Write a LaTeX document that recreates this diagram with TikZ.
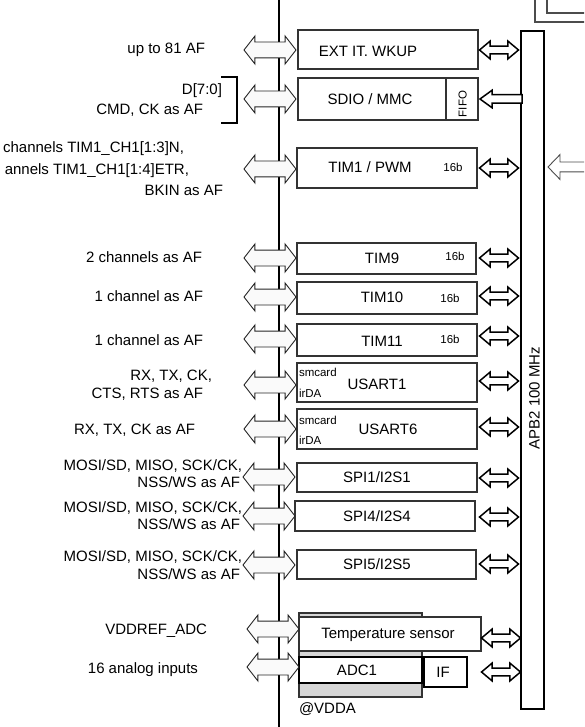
\documentclass[tikz,border=0pt]{standalone}
\usepackage{fontspec}
\setmainfont{Liberation Sans}
\usetikzlibrary{shapes.arrows}
\definecolor{adcgray}{HTML}{D6D6D6}
\definecolor{arrfill}{HTML}{FAFAFA}

\begin{document}
\begin{tikzpicture}[x=1pt, y=-1pt,
  every node/.style={font=\fontsize{15}{17}\selectfont, inner sep=0pt, outer sep=0pt},
  sml/.style={font=\fontsize{11.5}{13}\selectfont},
  ctr/.style={anchor=mid, yshift=-2pt},
  lbl/.style={anchor=mid east, yshift=-2pt},
  lft/.style={anchor=mid west, yshift=-2pt},
  blk/.style={draw=black!80, line width=1.1pt, fill=white, anchor=north west},
  larr/.style={double arrow, draw=black!85, line width=0.9pt, fill=arrfill, inner xsep=0pt, inner ysep=7.5pt,
    minimum height=52, double arrow head extend=6, double arrow tip angle=104},
  rarr/.style={double arrow, draw=black, line width=1.5pt, fill=white, inner xsep=0pt, inner ysep=3.2pt,
    minimum height=39, double arrow head extend=5, double arrow tip angle=80}]
\useasboundingbox (0,0) rectangle (584,727);
\clip (0,0) rectangle (584,727);
% corner of the frame above
\draw[black!70, line width=1.6pt] (535,0) -- (535,22) -- (590,22);
\draw[black!70, line width=1.6pt] (547,0) -- (547,13) -- (590,13);
% bus
\draw[line width=2.4pt] (279,0) -- (279,727);
% peripheral blocks
\node[blk, minimum width=180, minimum height=39] (wkup) at (298,30) {};
\node[ctr] (wkupt) at (368,52) {EXT IT. WKUP};
\node[blk, minimum width=180, minimum height=42] (sdio) at (298,78) {};
\draw[black!80, line width=1.1pt] (446,78) -- (446,120);
\node[ctr] (sdiot) at (370,100) {SDIO / MMC};
\node[sml, rotate=90, anchor=mid] (fifo) at (464,104) {FIFO};
\node[blk, minimum width=180, minimum height=40] (tim1) at (297,148) {};
\node[ctr] (tim1t) at (370,168) {TIM1 / PWM};
\node[sml, ctr] (tim1b) at (453,167) {16b};
\node[blk, minimum width=179, minimum height=31] (tim9) at (297,243) {};
\node[ctr] (tim9t) at (382,259) {TIM9};
\node[sml, ctr] (tim9b) at (455,256) {16b};
\node[blk, minimum width=180, minimum height=32] (tim10) at (297,282) {};
\node[ctr] (tim10t) at (382,298) {TIM10};
\node[sml, ctr] (tim10b) at (450,298) {16b};
\node[blk, minimum width=180, minimum height=32] (tim11) at (297,324) {};
\node[ctr] (tim11t) at (382,342) {TIM11};
\node[sml, ctr] (tim11b) at (450,339) {16b};
\node[blk, minimum width=180, minimum height=39] (usart1) at (297,363) {};
\node[ctr] (usart1t) at (377,385) {USART1};
\node[sml, lft] (usart1s) at (299,372) {smcard};
\node[sml, lft] (usart1i) at (299,393) {irDA};
\node[blk, minimum width=180, minimum height=40] (usart6) at (297,409) {};
\node[ctr] (usart6t) at (388,430) {USART6};
\node[sml, lft] (usart6s) at (299,420) {smcard};
\node[sml, lft] (usart6i) at (299,440) {irDA};
\node[blk, minimum width=180, minimum height=29] (spi1) at (297,463) {};
\node[ctr] (spi1t) at (377,478) {SPI1/I2S1};
\node[blk, minimum width=180, minimum height=30] (spi4) at (295,501) {};
\node[ctr] (spi4t) at (377,517) {SPI4/I2S4};
\node[blk, minimum width=179, minimum height=29] (spi5) at (297,550) {};
\node[ctr] (spi5t) at (377,565) {SPI5/I2S5};
% analog part
\node[blk, fill=adcgray, minimum width=123, minimum height=84] (vdda) at (299,613) {};
\node[blk, minimum width=182, minimum height=34] (temp) at (299,617) {};
\node[ctr] (tempt) at (388,634) {Temperature sensor};
\node[blk, draw=black, line width=1.6pt, minimum width=123, minimum height=26] (adc) at (299,657) {};
\node[ctr] (adct) at (357,671) {ADC1};
\node[blk, draw=black, line width=1.8pt, minimum width=43, minimum height=30] (if) at (424,657) {};
\node[ctr] (ift) at (443,673) {IF};
\node[lft] (vddat) at (299,709) {@VDDA};
% APB2 bus
\node[blk, draw=black, line width=2.2pt, minimum width=23, minimum height=678] (apb) at (521,31) {};
\node[rotate=90, anchor=mid] (apbt) at (537,398) {APB2 100 MHz};
\node[single arrow, draw=black!70, line width=0.9pt, fill=white, shape border rotate=180,
  inner xsep=0pt, inner ysep=4.5pt, minimum height=48, single arrow head extend=7.5,
  single arrow tip angle=92, anchor=tip] (apbin) at (548,167) {};
\node[single arrow, draw=black, line width=1.5pt, fill=white, shape border rotate=180,
  inner xsep=0pt, inner ysep=3.5pt, minimum height=42, single arrow head extend=4.5,
  single arrow tip angle=72, anchor=tip] (sdior) at (480,99) {};
% links to the pins
\node[larr] (lwkup) at (270,50) {};
\node[larr] (lsdio) at (270,99) {};
\node[larr] (ltim1) at (270,169) {};
\node[larr] (ltim9) at (270,258) {};
\node[larr] (ltim10) at (270,297) {};
\node[larr] (ltim11) at (270,339) {};
\node[larr] (lusart1) at (270,385) {};
\node[larr] (lusart6) at (270,429) {};
\node[larr] (lspi1) at (269,477) {};
\node[larr] (lspi4) at (269,516) {};
\node[larr] (lspi5) at (269,565) {};
\node[larr] (ltemp) at (273,629) {};
\node[larr] (ladc) at (273,667) {};
% links to APB2
\node[rarr] (rwkup) at (499,50) {};
\node[rarr] (rtim1) at (499,168) {};
\node[rarr] (rtim9) at (499,258) {};
\node[rarr] (rtim10) at (499,296) {};
\node[rarr] (rtim11) at (499,336) {};
\node[rarr] (rusart1) at (499,381) {};
\node[rarr] (rusart6) at (499,427) {};
\node[rarr] (rspi1) at (499,478) {};
\node[rarr] (rspi4) at (499,517) {};
\node[rarr] (rspi5) at (499,564) {};
\node[rarr] (rtemp) at (501,638) {};
\node[rarr] (radc) at (501,672) {};
% pin labels
\node[lbl] (pwkup) at (205,49) {up to 81 AF};
\node[lbl] (psdio1) at (222,90) {D[7:0]};
\node[lbl] (psdio2) at (203,110) {CMD, CK as AF};
\draw[line width=1.8pt] (221,77) -- (237,77) -- (237,123) -- (221,123);
\node[lbl] (ptim1a) at (184,148) {channels TIM1\_CH1[1:3]N,};
\node[lbl] (ptim1b) at (189,170) {annels TIM1\_CH1[1:4]ETR,};
\node[lbl] (ptim1c) at (223,191) {BKIN as AF};
\node[lbl] (ptim9) at (202,258) {2 channels as AF};
\node[lbl] (ptim10) at (203,297) {1 channel as AF};
\node[lbl] (ptim11) at (203,341) {1 channel as AF};
\node[lbl] (pusart1a) at (212,376) {RX, TX, CK,};
\node[lbl] (pusart1b) at (203,394) {CTS, RTS as AF};
\node[lbl] (pusart6) at (195,430) {RX, TX, CK as AF};
\node[lbl] (pspi1a) at (242,466) {MOSI/SD, MISO, SCK/CK,};
\node[lbl] (pspi1b) at (240,483) {NSS/WS as AF};
\node[lbl] (pspi4a) at (242,508) {MOSI/SD, MISO, SCK/CK,};
\node[lbl] (pspi4b) at (240,525) {NSS/WS as AF};
\node[lbl] (pspi5a) at (242,557) {MOSI/SD, MISO, SCK/CK,};
\node[lbl] (pspi5b) at (240,575) {NSS/WS as AF};
\node[lbl] (ptemp) at (207,630) {VDDREF\_ADC};
\node[lbl] (padc) at (198,669) {16 analog inputs};
\end{tikzpicture}
\end{document}
